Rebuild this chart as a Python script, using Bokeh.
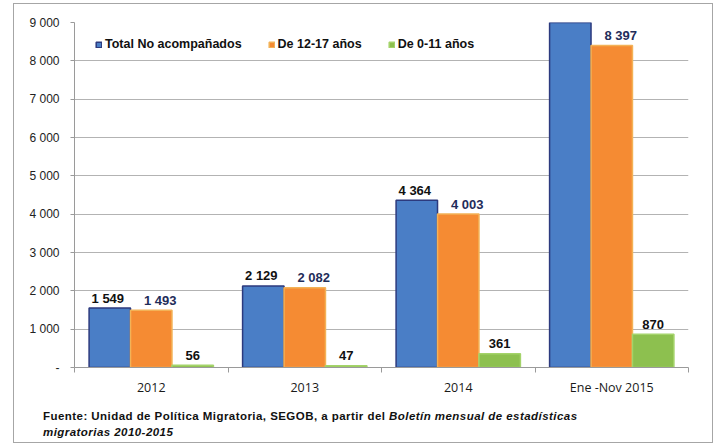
from bokeh.plotting import figure
from bokeh.layouts import column
from bokeh.models import (ColumnDataSource, Range1d, FixedTicker, Legend, LegendItem, Div)
from bokeh.core.properties import value
from bokeh.embed import file_html
from bokeh.resources import INLINE

# ---- data ----
categories = ["2012", "2013", "2014", "Ene -Nov 2015"]
series_names = ["Total No acompañados", "De 12-17 años", "De 0-11 años"]
total_no_acompanados = [1549, 2129, 4364, 9267]
de_12_17 = [1493, 2082, 4003, 8397]
de_0_11 = [56, 47, 361, 870]
y_max = 9000
y_ticks = [0, 1000, 2000, 3000, 4000, 5000, 6000, 7000, 8000, 9000]
y_tick_labels = ["-", "1 000", "2 000", "3 000", "4 000", "5 000", "6 000", "7 000", "8 000", "9 000"]
source_bold = "Fuente: Unidad de Política Migratoria, SEGOB, a partir del "
source_italic_1 = "Boletín mensual de estadísticas"
source_italic_2 = "migratorias 2010-2015"

# ---- styles ----
FONT = "Liberation Sans"
fills = ["#4a7ec6", "#f58b33", "#8dc04f"]
outlines = ["#2c3a7e", "#f3b257", "#a4d36a"]
label_colors = ["#111111", "#1f2d5a", "#111111"]
label_dx = [-2, 9, 0]
bar_w = 0.27
offsets = [-0.27, 0.0, 0.27]


def fmt(v):
    return f"{v:,}".replace(",", " ")


p = figure(width=698, height=396, output_backend="svg", toolbar_location=None,
           x_range=Range1d(0, len(categories)), y_range=Range1d(0, y_max),
           min_border_left=60, min_border_right=24, min_border_top=18, min_border_bottom=33)
p.outline_line_color = None
p.background_fill_color = "white"
p.border_fill_color = "white"

series = [total_no_acompanados, de_12_17, de_0_11]
legend_items = []
for k, vals in enumerate(series):
    xs = [i + 0.5 + offsets[k] for i in range(len(categories))]
    src = ColumnDataSource(dict(x=xs, top=vals))
    r = p.vbar(x="x", top="top", width=bar_w, bottom=0, source=src,
               fill_color=fills[k], line_color=outlines[k], line_width=1.5)
    # value labels only for bars whose top is inside the axis range
    vis = [(x, v) for x, v in zip(xs, vals) if v <= y_max]
    lsrc = ColumnDataSource(dict(x=[a for a, _ in vis], y=[b for _, b in vis],
                                 lab=[fmt(b) for _, b in vis]))
    p.text(x="x", y="y", text="lab", source=lsrc, text_align="center",
           text_baseline="alphabetic", x_offset=label_dx[k], y_offset=-10,
           text_font=value(FONT), text_font_size="13px", text_font_style="bold",
           text_color=label_colors[k])
    legend_items.append(LegendItem(label=series_names[k], renderers=[r]))

# axes
xa = p.xaxis[0]
xa.ticker = FixedTicker(ticks=[i + 0.5 for i in range(len(categories))],
                        minor_ticks=list(range(len(categories) + 1)))
xa.major_label_overrides = {i + 0.5: c for i, c in enumerate(categories)}
xa.major_tick_out = 0
xa.major_tick_in = 0
xa.minor_tick_out = 5
xa.minor_tick_in = 0
xa.minor_tick_line_color = "#9a9a9a"
xa.axis_line_color = "#9a9a9a"
xa.major_label_text_font = "Open Sans"
xa.major_label_text_font_size = "12.5px"
xa.major_label_text_color = "#1a1a1a"
xa.major_label_standoff = 6

ya = p.yaxis[0]
ya.ticker = FixedTicker(ticks=y_ticks)
ya.major_label_overrides = {t: l for t, l in zip(y_ticks, y_tick_labels)}
ya.major_tick_out = 4
ya.major_tick_in = 0
ya.minor_tick_line_color = None
ya.major_tick_line_color = "#9a9a9a"
ya.axis_line_color = "#9a9a9a"
ya.major_label_text_font = FONT
ya.major_label_text_font_size = "12px"
ya.major_label_text_color = "#222222"
ya.major_label_standoff = 11

p.xgrid.grid_line_color = None
p.ygrid.grid_line_color = "#b3b3b3"
p.ygrid.ticker = FixedTicker(ticks=y_ticks)

legend = Legend(items=legend_items, orientation="horizontal", location=(21, 345 - 15 - 14),
                glyph_width=7, glyph_height=7, label_height=14, label_standoff=3,
                spacing=26, padding=0, margin=0, border_line_color=None,
                background_fill_alpha=0,
                label_text_font=FONT, label_text_font_size="12.5px",
                label_text_font_style="bold", label_text_color="#111111")
p.add_layout(legend)

note_style = ("font-family: 'Liberation Sans', Arial, sans-serif; font-size: 11.5px; "
              "font-weight: bold; line-height: 16px; color: #111111; letter-spacing: 0.45px; "
              "padding: 8px 0 0 29px; margin: 0; white-space: nowrap;")
note = Div(text=(f'<div style="{note_style}">{source_bold}<i>{source_italic_1}</i><br>'
                 f'<i>{source_italic_2}</i></div>'),
           width=698, height=42, margin=0)

layout = column(p, note, spacing=0, margin=(3, 0, 0, 13),
                styles={"border": "1px solid #a6a6a6", "background": "white"})

open("out.html", "w").write(file_html(layout, INLINE))
